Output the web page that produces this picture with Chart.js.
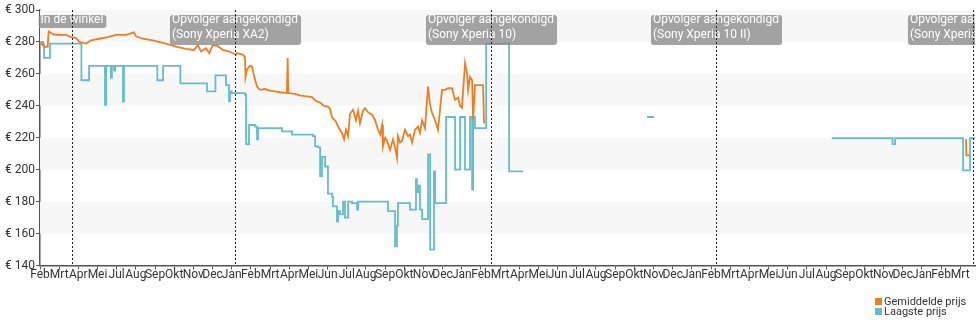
<!DOCTYPE html>
<html>
<head>
<meta charset="utf-8">
<script src="https://cdn.jsdelivr.net/npm/chart.js@4.4.1/dist/chart.umd.min.js"></script>
<style>
  html, body { margin: 0; padding: 0; background: #fff; }
  #wrap { position: relative; width: 980px; height: 325px; }
  #legend { position: absolute; left: 875px; top: 297px; font: 11px Roboto, sans-serif; color: #333; line-height: 10px; }
  #legend div { white-space: nowrap; }
  #legend span { display: inline-block; width: 7px; height: 7px; margin-right: 2px; }
</style>
</head>
<body>
<div id="wrap">
  <canvas id="chart" width="980" height="325"></canvas>
  <div id="legend">
    <div><span style="background:#ef7d22"></span>Gemiddelde prijs</div>
    <div><span style="background:#62bfc9"></span>Laagste prijs</div>
  </div>
</div>
<script>
// maand-labels onder de x-as (één tick per ~31 dagen, feb 2017 - mrt 2021)
const tickLabels = [
    'Feb', 'Mrt', 'Apr', 'Mei', 'Jul', 'Aug', 'Sep', 'Okt', 'Nov', 'Dec', 'Jan',
    'Feb', 'Mrt', 'Apr', 'Mei', 'Jun', 'Jul', 'Aug', 'Sep', 'Okt', 'Nov', 'Dec', 'Jan',
    'Feb', 'Mrt', 'Apr', 'Mei', 'Jun', 'Jul', 'Aug', 'Sep', 'Okt', 'Nov', 'Dec', 'Jan',
    'Feb', 'Mrt', 'Apr', 'Mei', 'Jun', 'Jul', 'Aug', 'Sep', 'Okt', 'Nov', 'Dec', 'Jan', 'Feb', 'Mrt'
];
const yTicks = [140, 160, 180, 200, 220, 240, 260, 280, 300];

// gebeurtenissen (positie in tick-eenheden)
const eventX = [1.67, 10.17, 23.53, 35.26, 48.67];
const eventLabels = [
    ['In de winkel'],
    ['Opvolger aangekondigd', '(Sony Xperia XA2)'],
    ['Opvolger aangekondigd', '(Sony Xperia 10)'],
    ['Opvolger aangekondigd', '(Sony Xperia 10 II)'],
    ['Opvolger aangekondigd', '(Sony Xperia 10 III)']
];

// [x, prijs]
const avgPrice = [
    [0, 280], [0.05, 280], [0.22, 277], [0.40, 277], [0.45, 286.5], [0.66, 285], [0.83, 284.5],
    [1.36, 284.4], [1.62, 283], [1.88, 282.5], [2.05, 280], [2.40, 279], [2.66, 281], [3.09, 282],
    [3.53, 283], [3.96, 284.4], [4.49, 284.4], [4.90, 286], [5.01, 283.5], [5.36, 282], [5.88, 281],
    [6.57, 279], [7.09, 277], [7.62, 275.6], [8.03, 275], [8.23, 278], [8.40, 274], [8.66, 276],
    [8.83, 273], [9.01, 278], [9.27, 277.5], [9.53, 275], [9.87, 274], [10.22, 272], [10.28, 273],
    [10.59, 272], [10.69, 270.5], [10.72, 258], [10.80, 263], [10.95, 265], [11.06, 264.6],
    [11.16, 259], [11.32, 252], [11.48, 250], [11.74, 250.5], [12.00, 249.5], [12.26, 249],
    [12.52, 248.5], [12.88, 248], [12.92, 270], [12.95, 248], [13.30, 247.5], [13.56, 246.5],
    [13.82, 246], [14.19, 245.5], [14.40, 243], [14.61, 242], [14.81, 240], [15.02, 239.5],
    [15.13, 238], [15.23, 233], [15.44, 230], [15.55, 227], [15.65, 225], [15.75, 223],
    [15.86, 219], [15.96, 225], [16.07, 221], [16.17, 235], [16.33, 237.5], [16.48, 231],
    [16.59, 237], [16.69, 229], [16.85, 237], [16.95, 238.5], [17.11, 236], [17.32, 234.4],
    [17.48, 231], [17.63, 225], [17.74, 222], [17.84, 228], [17.89, 214.6], [18.00, 220],
    [18.10, 218], [18.26, 212.5], [18.41, 219], [18.52, 214], [18.62, 207.5], [18.67, 221],
    [18.78, 217], [18.88, 218], [19.04, 225], [19.20, 221], [19.30, 222], [19.41, 217],
    [19.56, 225], [19.72, 227], [19.82, 223], [19.93, 231], [20.08, 226], [20.24, 252],
    [20.34, 241], [20.45, 235.5], [20.61, 231], [20.76, 225], [20.87, 238], [20.97, 250],
    [21.13, 250], [21.28, 251], [21.49, 251], [21.65, 243.7], [21.81, 245], [21.91, 240],
    [22.01, 238.7], [22.17, 266.7], [22.28, 260], [22.33, 250], [22.43, 258], [22.54, 256],
    [22.59, 231], [22.69, 253], [23.11, 253], [23.16, 229], [23.17, null],
    [48.3, 219], [48.32, 209], [48.5, 209]
];

const lowPrice = [
    [0.05, 280], [0.16, 279], [0.21, 270], [0.47, 270], [0.52, 279], [2.14, 279], [2.16, 256],
    [2.56, 265], [3.34, 265], [3.39, 240.6], [3.45, 265], [3.7, 257.5], [3.75, 265], [3.86, 262],
    [3.92, 265], [4.33, 242.7], [4.38, 265], [6.1, 265], [6.12, 256], [6.42, 265], [7.3, 265],
    [7.32, 254], [8.66, 254], [8.71, 249], [9.13, 249], [9.15, 259], [9.65, 259], [9.7, 253],
    [9.81, 253], [9.86, 243], [9.91, 249], [10.0, 248], [10.69, 247], [10.75, 216], [10.9, 228],
    [11.22, 227], [11.32, 219], [11.37, 226], [12.62, 224], [13.15, 222], [14.24, 221],
    [14.35, 214.6], [14.5, 214], [14.61, 196], [14.71, 208], [14.87, 202], [15.02, 185],
    [15.23, 183], [15.28, 177], [15.49, 167.7], [15.55, 174], [15.65, 172], [15.81, 180],
    [15.91, 170], [16.07, 180], [16.28, 179], [16.54, 175], [16.59, 180], [18.1, 180],
    [18.15, 174], [18.52, 152], [18.62, 165], [18.67, 179], [19.14, 179], [19.3, 175],
    [19.56, 175], [19.61, 194], [19.66, 186], [19.72, 190], [19.82, 175], [19.93, 169],
    [20.24, 209.5], [20.35, 150], [20.55, 199], [20.61, 179], [21.13, 179], [21.18, 233],
    [21.54, 233], [21.65, 200], [21.91, 233], [22.07, 233], [22.17, 200], [22.43, 233],
    [22.54, 187.5], [22.59, 233], [22.69, 226], [23.27, 279], [24.47, 199], [25.2, 199],
    [25.21, null], [31.66, 233], [32.03, 233], [32.04, null],
    [41.3, 219.8], [44.47, 216], [44.6, 219.8], [48.15, 199.6], [48.51, 219.8], [48.77, 219.8]
];

const toPoints = arr => arr.map(p => ({x: p[0], y: p[1]}));

// grijze banden achter de grafiek
const bandPlugin = {
    id: 'bands',
    beforeDatasetsDraw(chart) {
        const {ctx, chartArea: a, scales: {y}} = chart;
        ctx.save();
        ctx.fillStyle = '#f7f7f7';
        for (let v = 160; v < 300; v += 40) {
            const top = y.getPixelForValue(v + 20);
            const bottom = y.getPixelForValue(v);
            ctx.fillRect(a.left, top, a.right - a.left, bottom - top);
        }
        ctx.restore();
    }
};

// labels + stippellijnen voor gebeurtenissen
const eventPlugin = {
    id: 'events',
    afterDatasetsDraw(chart) {
        const {ctx, chartArea: a, scales: {x}} = chart;
        ctx.save();
        ctx.beginPath();
        ctx.rect(a.left - 2, 0, a.right - a.left + 2, chart.height);
        ctx.clip();
        ctx.font = '12px Roboto';
        eventX.forEach((v, i) => {
            const px = Math.round(x.getPixelForValue(v)) + 0.5;
            const lines = eventLabels[i];
            const w = Math.max(...lines.map(t => ctx.measureText(t).width)) + 5;
            const h = lines.length === 1 ? 13 : 30;
            const left = px - w / 2;
            ctx.fillStyle = 'rgba(140,140,140,0.8)';
            ctx.beginPath();
            ctx.roundRect(left, 15, w, h, 3);
            ctx.fill();
            ctx.fillStyle = '#fff';
            ctx.textBaseline = 'top';
            lines.forEach((t, j) => ctx.fillText(t, left + 2, 14 + j * 15));
            ctx.strokeStyle = '#222';
            ctx.lineWidth = 1;
            ctx.setLineDash([2, 2]);
            ctx.beginPath();
            ctx.moveTo(px, a.top);
            ctx.lineTo(px, a.bottom);
            ctx.stroke();
            ctx.setLineDash([]);
        });
        ctx.restore();
    }
};

const ctx = document.getElementById('chart').getContext('2d');
const chart = new Chart(ctx, {
    type: 'line',
    data: {
        datasets: [{
            label: 'Gemiddelde prijs',
            data: toPoints(avgPrice),
            borderColor: '#ef7d22',
            borderWidth: 1.8,
            pointRadius: 0,
            tension: 0,
            spanGaps: false
        }, {
            label: 'Laagste prijs',
            data: toPoints(lowPrice),
            borderColor: '#62bfc9',
            borderWidth: 1.8,
            stepped: true,
            pointRadius: 0,
            spanGaps: false
        }]
    },
    options: {
        responsive: false,
        animation: false,
        layout: { padding: { top: 10, right: 5, left: 0, bottom: 0 } },
        plugins: { legend: { display: false }, tooltip: { enabled: false } },
        scales: {
            x: {
                type: 'linear',
                min: 0,
                max: 48.77,
                afterFit: s => { s.height = 59.5; },
                afterBuildTicks: s => { s.ticks = tickLabels.map((_, i) => ({value: i})); },
                grid: { drawOnChartArea: false, drawTicks: true, tickLength: 4, color: '#555' },
                border: { display: true, color: '#555', width: 1.5 },
                ticks: {
                    autoSkip: false, maxRotation: 0, minRotation: 0, padding: -2,
                    color: '#333', font: { family: 'Roboto', size: 12 },
                    callback: v => tickLabels[v]
                }
            },
            y: {
                min: 140,
                max: 300,
                afterFit: s => { s.width = 40; },
                afterBuildTicks: s => { s.ticks = yTicks.map(v => ({value: v})); },
                grid: { drawOnChartArea: false, drawTicks: true, tickLength: 4, color: '#555' },
                border: { display: true, color: '#555', width: 1.5 },
                ticks: {
                    padding: 1,
                    color: '#333', font: { family: 'Roboto', size: 12 },
                    callback: v => '€ ' + v
                }
            }
        }
    },
    plugins: [bandPlugin, eventPlugin]
});
</script>
</body>
</html>
